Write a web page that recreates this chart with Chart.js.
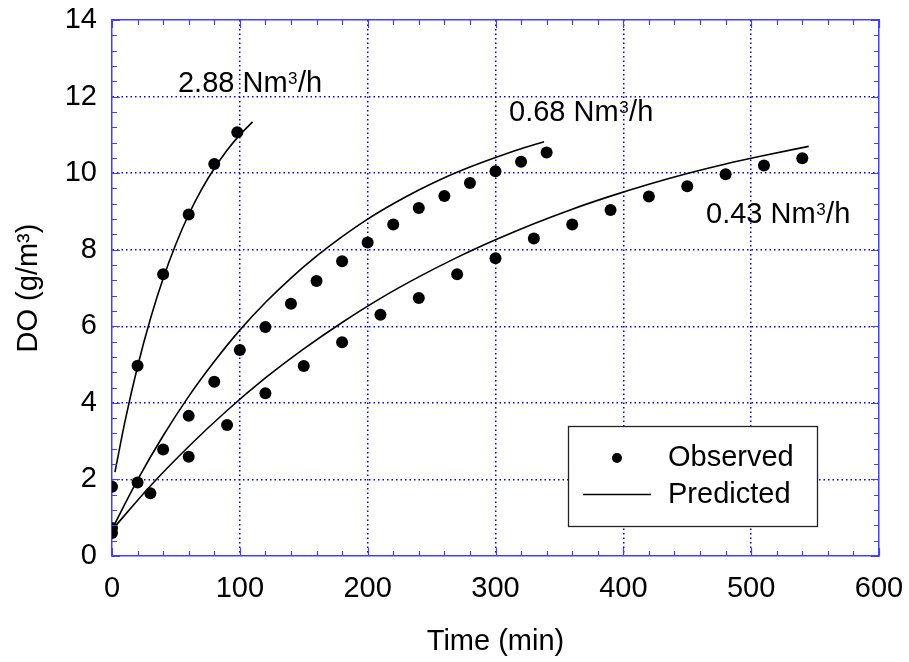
<!DOCTYPE html>
<html>
<head>
<meta charset="utf-8">
<script src="https://cdn.jsdelivr.net/npm/chart.js@4/dist/chart.umd.min.js"></script>
<style>
	html, body { margin: 0; padding: 0; background: #fff; }
	#wrap { width: 909px; height: 662px; }
</style>
</head>
<body>
<div id="wrap"><canvas id="do-chart" width="909" height="662"></canvas></div>
<script>
"use strict";

// observed DO, 2.88 Nm3/h
var obs288Time  = [0, 20, 40, 60, 80, 98];
var obs288Value = [1.81, 4.97, 7.36, 8.92, 10.24, 11.07];

// observed DO, 0.68 Nm3/h
var obs068Time  = [0, 20, 40, 60, 80, 100, 120, 140, 160, 180, 200, 220, 240, 260, 280, 300, 320, 340];
var obs068Value = [0.73, 1.92, 2.78, 3.66, 4.55, 5.38, 5.98, 6.59, 7.18, 7.70, 8.19, 8.66, 9.09, 9.40, 9.74, 10.05, 10.30, 10.54];

// observed DO, 0.43 Nm3/h
var obs043Time  = [0, 30, 60, 90, 120, 150, 180, 210, 240, 270, 300, 330, 360, 390, 420, 450, 480, 510, 540];
var obs043Value = [0.60, 1.64, 2.59, 3.42, 4.25, 4.96, 5.58, 6.30, 6.74, 7.36, 7.78, 8.29, 8.66, 9.04, 9.39, 9.66, 9.97, 10.20, 10.39];

// predicted curves
var pred288Time  = [2.3, 10, 20, 30, 40, 50, 60, 70, 80, 90, 100, 110];
var pred288Value = [2.19, 3.49, 4.95, 6.19, 7.25, 8.15, 8.92, 9.57, 10.12, 10.60, 11.00, 11.34];

var pred068Time  = [0, 20, 40, 60, 80, 100, 120, 140, 160, 180, 200, 220, 240, 260, 280, 300, 320, 338];
var pred068Value = [0.70, 1.99, 3.14, 4.17, 5.08, 5.90, 6.62, 7.26, 7.83, 8.34, 8.80, 9.20, 9.56, 9.88, 10.16, 10.41, 10.64, 10.82];

var pred043Time  = [0, 30, 60, 90, 120, 150, 180, 210, 240, 270, 300, 330, 360, 390, 420, 450, 480, 510, 545];
var pred043Value = [0.68, 1.83, 2.86, 3.80, 4.65, 5.41, 6.10, 6.73, 7.29, 7.80, 8.26, 8.68, 9.06, 9.40, 9.71, 9.99, 10.24, 10.46, 10.70];

// airflow labels next to each curve (value-space anchor of the text baseline)
var flowLabels = ['2.88', '0.68', '0.43'];
var flowLabelX = [51.6, 310.6, 464.7];
var flowLabelY = [12.12, 11.37, 8.70];

var legendLabels = ['Observed', 'Predicted'];

var FONT = '"Liberation Sans", Arial, sans-serif';
var AXIS_BLUE = '#4040ff';
var GRID_BLUE = '#0000ff';

function pairs(xs, ys) {
	var out = [];
	for (var i = 0; i < xs.length; i++) out.push({ x: xs[i], y: ys[i] });
	return out;
}

function observed(xs, ys) {
	return {
		type: 'scatter',
		data: pairs(xs, ys),
		pointRadius: 6,
		pointBackgroundColor: '#000',
		pointBorderWidth: 0,
		showLine: false,
		order: 1
	};
}

function predicted(xs, ys) {
	return {
		type: 'line',
		data: pairs(xs, ys),
		borderColor: '#000',
		borderWidth: 1.6,
		pointRadius: 0,
		cubicInterpolationMode: 'monotone',
		fill: false,
		order: 2
	};
}

function isMajor(v, step) {
	return Math.abs(v / step - Math.round(v / step)) < 1e-6;
}

// fixed box sizes so the plot frame sits where it should; drop the label overhang padding
function fixHeight(h) {
	return function (s) {
		s.height = h;
		s.paddingLeft = 0;
		s.paddingRight = 0;
	};
}
function fixWidth(w) {
	return function (s) {
		s.width = w;
		s.paddingTop = 0;
		s.paddingBottom = 0;
	};
}

// inward minor/major ticks on all four sides of the frame
var innerTicks = {
	id: 'innerTicks',
	afterDatasetsDraw: function (chart) {
		var ctx = chart.ctx, a = chart.chartArea;
		var xs = chart.scales.x, ys = chart.scales.y;
		ctx.save();
		ctx.strokeStyle = AXIS_BLUE;
		ctx.lineWidth = 1.2;
		ctx.beginPath();
		xs.ticks.forEach(function (t) {
			var px = Math.round(xs.getPixelForValue(t.value)) + 0.5;
			var len = isMajor(t.value, 100) ? 8 : 5;
			ctx.moveTo(px, a.bottom); ctx.lineTo(px, a.bottom - len);
			ctx.moveTo(px, a.top); ctx.lineTo(px, a.top + len);
		});
		ys.ticks.forEach(function (t) {
			var py = Math.round(ys.getPixelForValue(t.value)) + 0.5;
			var len = isMajor(t.value, 2) ? 8 : 5;
			ctx.moveTo(a.left, py); ctx.lineTo(a.left + len, py);
			ctx.moveTo(a.right, py); ctx.lineTo(a.right - len, py);
		});
		ctx.stroke();
		ctx.restore();
	}
};

// "x.xx Nm3/h" with a raised 3
function drawFlowText(ctx, text, x, y) {
	ctx.font = '29px ' + FONT;
	ctx.textBaseline = 'alphabetic';
	ctx.textAlign = 'left';
	var head = text + ' Nm';
	ctx.fillText(head, x, y);
	x += ctx.measureText(head).width;
	ctx.font = '17px ' + FONT;
	ctx.fillText('3', x + 0.5, y - 8);
	x += ctx.measureText('3').width + 1;
	ctx.font = '29px ' + FONT;
	ctx.fillText('/h', x, y);
}

var flowText = {
	id: 'flowText',
	afterDraw: function (chart) {
		var ctx = chart.ctx;
		ctx.save();
		ctx.fillStyle = '#000';
		for (var i = 0; i < flowLabels.length; i++) {
			drawFlowText(ctx, flowLabels[i],
				chart.scales.x.getPixelForValue(flowLabelX[i]),
				chart.scales.y.getPixelForValue(flowLabelY[i]));
		}
		ctx.restore();
	}
};

// boxed legend in the lower right of the plot
var boxLegend = {
	id: 'boxLegend',
	afterDraw: function (chart) {
		var ctx = chart.ctx, a = chart.chartArea;
		var w = 249, h = 100;
		var left = a.right - 62 - w, top = a.bottom - 30 - h;
		ctx.save();
		ctx.fillStyle = '#fff';
		ctx.fillRect(left, top, w, h);
		ctx.strokeStyle = '#222';
		ctx.lineWidth = 1.3;
		ctx.strokeRect(left + 0.5, top + 0.5, w, h);

		ctx.fillStyle = '#000';
		ctx.beginPath();
		ctx.arc(left + 49, top + 32, 5, 0, Math.PI * 2);
		ctx.fill();

		ctx.strokeStyle = '#000';
		ctx.lineWidth = 1.6;
		ctx.beginPath();
		ctx.moveTo(left + 15, top + 68.5);
		ctx.lineTo(left + 83, top + 68.5);
		ctx.stroke();

		ctx.font = '29px ' + FONT;
		ctx.textBaseline = 'middle';
		ctx.textAlign = 'left';
		ctx.fillText(legendLabels[0], left + 100, top + 32);
		ctx.fillText(legendLabels[1], left + 100, top + 69);
		ctx.restore();
	}
};

var tickFont = { family: FONT, size: 29 };

var config = {
	type: 'scatter',
	data: {
		datasets: [
			observed(obs288Time, obs288Value),
			observed(obs068Time, obs068Value),
			observed(obs043Time, obs043Value),
			predicted(pred288Time, pred288Value),
			predicted(pred068Time, pred068Value),
			predicted(pred043Time, pred043Value)
		]
	},
	options: {
		responsive: false,
		animation: false,
		layout: { padding: 0 },
		plugins: {
			legend: { display: false },
			tooltip: { enabled: false }
		},
		scales: {
			x: {
				type: 'linear',
				position: 'bottom',
				min: 0,
				max: 600,
				afterFit: fixHeight(106),
				ticks: {
					stepSize: 20,
					autoSkip: false,
					maxRotation: 0,
					padding: 16,
					color: '#000',
					font: tickFont,
					callback: function (v) { return isMajor(v, 100) ? String(v) : ''; }
				},
				grid: {
					drawTicks: false,
					lineWidth: 1.5,
					color: function (c) {
						var v = c.tick ? c.tick.value : 0;
						return (isMajor(v, 100) && v > 0 && v < 600) ? GRID_BLUE : 'rgba(0,0,0,0)';
					}
				},
				border: { display: true, color: AXIS_BLUE, width: 1.5, dash: [1.5, 3] },
				title: {
					display: true,
					text: 'Time (min)',
					color: '#000',
					font: tickFont,
					padding: { top: 0, bottom: 3 }
				}
			},
			y: {
				type: 'linear',
				position: 'left',
				min: 0,
				max: 14,
				afterFit: fixWidth(112),
				ticks: {
					stepSize: 0.4,
					autoSkip: false,
					padding: 15,
					color: '#000',
					font: tickFont,
					callback: function (v) { return isMajor(v, 2) ? String(Math.round(v)) : ''; }
				},
				grid: {
					drawTicks: false,
					lineWidth: 1.5,
					color: function (c) {
						var v = c.tick ? c.tick.value : 0;
						return (isMajor(v, 2) && v > 0.01 && v < 13.99) ? GRID_BLUE : 'rgba(0,0,0,0)';
					}
				},
				border: { display: true, color: AXIS_BLUE, width: 1.5, dash: [1.5, 3] },
				title: {
					display: true,
					text: 'DO (g/m³)',
					color: '#000',
					font: tickFont,
					padding: { top: 12, bottom: 0 }
				}
			},
			xTop: {
				type: 'linear',
				position: 'top',
				display: true,
				min: 0,
				max: 600,
				afterFit: fixHeight(20),
				ticks: { display: false },
				grid: { display: false, drawTicks: false },
				border: { display: true, color: AXIS_BLUE, width: 1.5 }
			},
			yRight: {
				type: 'linear',
				position: 'right',
				display: true,
				min: 0,
				max: 14,
				afterFit: fixWidth(30),
				ticks: { display: false },
				grid: { display: false, drawTicks: false },
				border: { display: true, color: AXIS_BLUE, width: 1.5 }
			}
		}
	},
	plugins: [innerTicks, flowText, boxLegend]
};

var ctx = document.getElementById('do-chart').getContext('2d');
var doChart = new Chart(ctx, config);
</script>
</body>
</html>
